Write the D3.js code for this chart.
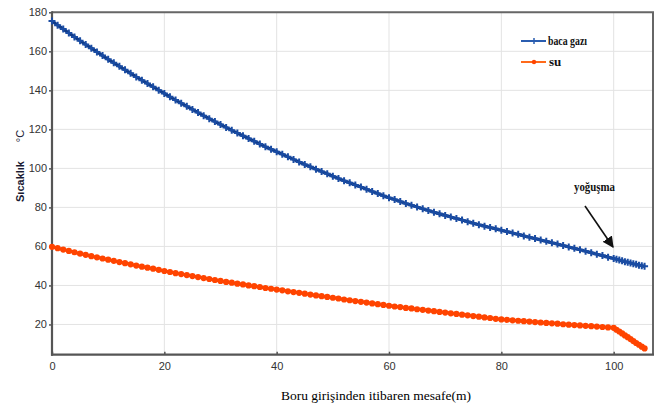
<!DOCTYPE html>
<html><head><meta charset="utf-8">
<script src="https://cdn.jsdelivr.net/npm/d3@7/dist/d3.min.js"></script>
<style>body{margin:0;background:#fff}svg{display:block}</style>
</head><body><svg id="c" width="665" height="409"></svg>
<script>
// distances (m): 0..100 step 1, then condensation zone 100.5..105.5 step 0.5
const distance = d3.range(0, 101).concat([100.5,101,101.5,102,102.5,103,103.5,104,104.5,105,105.5]);
const bacaGazi = [
175.5,173.4,171.4,169.4,167.4,165.4,163.5,161.6,159.7,157.8,
155.9,154.1,152.3,150.5,148.7,146.9,145.2,143.5,141.8,140.1,
138.4,136.7,135.0,133.4,131.8,130.2,128.6,127.0,125.5,124.0,
122.5,121.0,119.5,118.1,116.7,115.3,113.9,112.5,111.1,109.8,
108.5,107.2,105.9,104.6,103.3,102.0,100.8,99.6,98.4,97.2,
96.0,94.8,93.7,92.6,91.5,90.4,89.3,88.2,87.1,86.0,
85.0,84.0,83.0,82.0,81.1,80.2,79.3,78.4,77.5,76.7,
75.9,75.1,74.3,73.5,72.7,71.9,71.1,70.4,69.7,69.0,
68.3,67.6,66.9,66.2,65.4,64.7,64.0,63.3,62.6,61.9,
61.2,60.5,59.7,59.0,58.3,57.5,56.8,56.0,55.3,54.5,
53.8,
53.4,53.0,52.6,52.2,51.9,51.5,51.1,50.8,50.4,50.1,49.8];
const su = [
59.8,59.1,58.4,57.7,57.0,56.3,55.7,55.0,54.4,53.8,
53.2,52.6,52.0,51.4,50.8,50.2,49.6,49.1,48.6,48.0,
47.4,46.9,46.3,45.8,45.3,44.8,44.3,43.8,43.3,42.8,
42.3,41.8,41.4,40.9,40.5,40.0,39.6,39.2,38.7,38.3,
37.9,37.5,37.0,36.6,36.2,35.8,35.3,34.9,34.5,34.1,
33.7,33.3,32.8,32.4,32.0,31.6,31.2,30.8,30.4,30.0,
29.6,29.2,28.9,28.5,28.2,27.8,27.5,27.1,26.8,26.4,
26.1,25.7,25.4,25.0,24.7,24.3,24.0,23.6,23.3,22.9,
22.6,22.4,22.1,21.9,21.7,21.5,21.2,21.0,20.8,20.6,
20.4,20.1,19.9,19.7,19.5,19.3,19.1,18.9,18.7,18.5,
18.3,
17.3,16.4,15.4,14.4,13.5,12.5,11.5,10.5,9.6,8.6,7.7];
const xTicks = [0,20,40,60,80,100];
const yTicks = [20,40,60,80,100,120,140,160,180];
const seriesNames = ["baca gazı","su"];
const xTitle = "Boru girişinden itibaren mesafe(m)";
const yTitle = "Sıcaklık";
const yUnit = "°C";
const annotation = "yoğuşma";

const svg = d3.select("#c");
const x = d3.scaleLinear().domain([0,107]).range([52,653]);
const y = d3.scaleLinear().domain([4.5,180]).range([354.7,12.3]);
const L = x.range()[0], R = x.range()[1], T = y.range()[1], B = y.range()[0];

// grid
svg.append("g").selectAll("line").data(xTicks.filter(d=>d>0)).join("line")
  .attr("x1",d=>x(d)).attr("x2",d=>x(d)).attr("y1",T).attr("y2",B)
  .attr("stroke","#e3e3e3").attr("stroke-width",1);
svg.append("g").selectAll("line").data(yTicks.filter(d=>d<180)).join("line")
  .attr("x1",L).attr("x2",R).attr("y1",d=>y(d)).attr("y2",d=>y(d))
  .attr("stroke","#e3e3e3").attr("stroke-width",1);

// frame top/right
svg.append("path").attr("d",`M${L},${T}H${R}V${B}`).attr("fill","none")
  .attr("stroke","#666").attr("stroke-width",2);

// axes
const fontTick = "'Liberation Sans', Arial, sans-serif";
const yAxis = svg.append("g").attr("transform",`translate(${L},0)`)
  .call(d3.axisLeft(y).tickValues(yTicks).tickSize(3).tickPadding(2));
const xAxis = svg.append("g").attr("transform",`translate(0,${B})`)
  .call(d3.axisBottom(x).tickValues(xTicks).tickSize(-3).tickPadding(8));
[yAxis,xAxis].forEach(a=>{
  a.select(".domain").remove();
  a.selectAll(".tick line").attr("stroke","#555").attr("stroke-width",1.5);
  a.selectAll("text").attr("font-family",fontTick).attr("font-size",11).attr("fill","#333");
});
svg.append("line").attr("x1",L).attr("x2",L).attr("y1",T-1).attr("y2",B+1).attr("stroke","#555").attr("stroke-width",2.2);
svg.append("line").attr("x1",L-1).attr("x2",R+1).attr("y1",B).attr("y2",B).attr("stroke","#555").attr("stroke-width",2.2);

// series
const blueData = distance.map((d,i)=>[d,bacaGazi[i]]);
const orangeData = distance.map((d,i)=>[d,su[i]]);
const line = d3.line().x(d=>x(d[0])).y(d=>y(d[1]));
const blue = "#0f3a88", orange = "#ff4400";

svg.append("path").datum(orangeData).attr("d",line).attr("fill","none")
  .attr("stroke",orange).attr("stroke-width",3);
svg.append("g").selectAll("circle").data(orangeData).join("circle")
  .attr("cx",d=>x(d[0])).attr("cy",d=>y(d[1])).attr("r",3.1).attr("fill",orange);

svg.append("path").datum(blueData).attr("d",line).attr("fill","none")
  .attr("stroke",blue).attr("stroke-width",3.2);
const cross = (cx,cy,s)=>`M${cx-s},${cy}H${cx+s}M${cx},${cy-s}V${cy+s}`;
svg.append("g").selectAll("path").data(blueData).join("path")
  .attr("d",d=>cross(x(d[0]),y(d[1]),3.5)).attr("stroke","#1a4ca3").attr("stroke-width",2);

// legend
const serif = "'Liberation Serif','Times New Roman',serif";
const lg = svg.append("g");
lg.append("line").attr("x1",521).attr("x2",546).attr("y1",41).attr("y2",41).attr("stroke","#2a5db0").attr("stroke-width",2);
lg.append("path").attr("d",cross(534,41,3)).attr("stroke","#2a5db0").attr("stroke-width",1.5);
lg.append("text").attr("x",548).attr("y",45).text(seriesNames[0])
  .attr("font-family",serif).attr("font-weight","bold").attr("font-size",13)
  .attr("textLength",39).attr("lengthAdjust","spacingAndGlyphs").attr("fill","#111");
lg.append("line").attr("x1",521).attr("x2",546).attr("y1",62).attr("y2",62).attr("stroke","#ff6a1a").attr("stroke-width",2);
lg.append("circle").attr("cx",534).attr("cy",62).attr("r",2.2).attr("fill","#ff4400");
lg.append("text").attr("x",549).attr("y",66).text(seriesNames[1])
  .attr("font-family",serif).attr("font-weight","bold").attr("font-size",13).attr("fill","#111");

// annotation
svg.append("defs").append("marker").attr("id","ah").attr("viewBox","0 0 10 10")
  .attr("refX",9).attr("refY",5).attr("markerWidth",7).attr("markerHeight",7).attr("orient","auto")
  .append("path").attr("d","M0,0L10,5L0,10z").attr("fill","#111");
svg.append("line").attr("x1",585).attr("y1",206).attr("x2",613).attr("y2",247)
  .attr("stroke","#111").attr("stroke-width",1.6).attr("marker-end","url(#ah)");
svg.append("text").attr("x",574).attr("y",191).text(annotation)
  .attr("font-family",serif).attr("font-weight","bold").attr("font-size",12)
  .attr("textLength",41).attr("lengthAdjust","spacingAndGlyphs").attr("fill","#111");

// titles
svg.append("text").attr("x",376).attr("y",400).attr("text-anchor","middle").text(xTitle)
  .attr("font-family",serif).attr("font-size",13.5).attr("fill","#000");
svg.append("text").attr("transform","translate(24,181.5) rotate(-90)").attr("text-anchor","middle")
  .text(yTitle).attr("font-family",fontTick).attr("font-weight","bold").attr("font-size",11).attr("fill","#1a1a33");
svg.append("text").attr("transform","translate(24,136) rotate(-90)").attr("text-anchor","middle")
  .text(yUnit).attr("font-family",fontTick).attr("font-size",11).attr("fill","#1a1a33");
</script></body></html>
